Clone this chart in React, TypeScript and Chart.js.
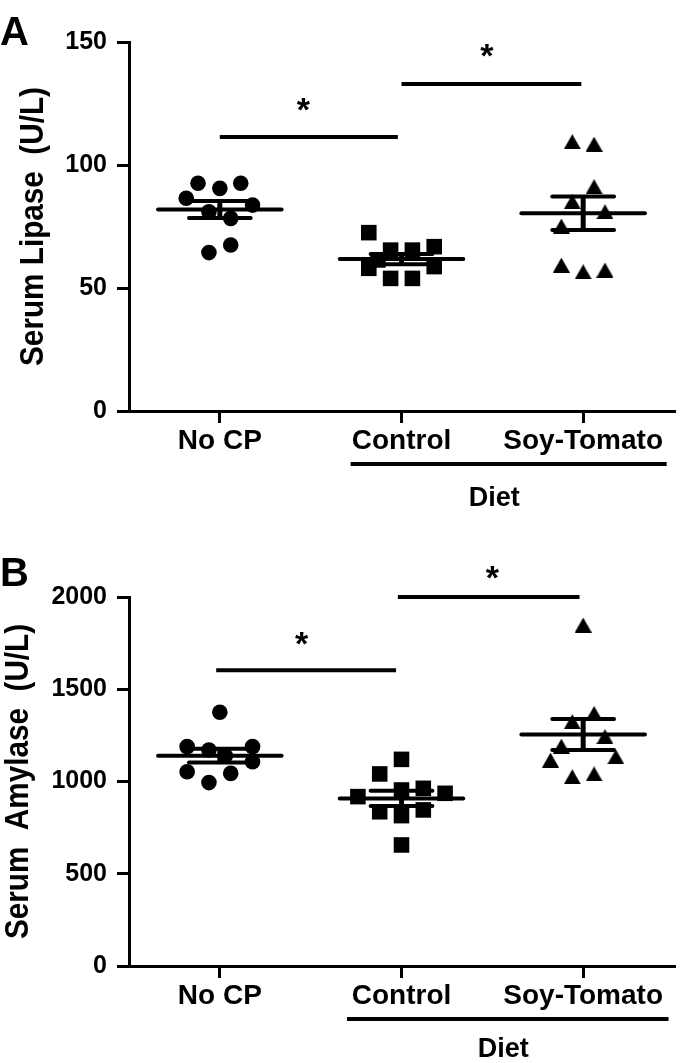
import React, { useEffect, useRef } from 'react';
import { Chart, registerables } from 'chart.js';

Chart.register(...registerables);

const FONT = '"Liberation Sans", Arial, Helvetica, sans-serif';

const categories = ['No CP', 'Control', 'Soy-Tomato'];

// Panel A – Serum Lipase (U/L)
const lipaseTicks = [0, 50, 100, 150];
const lipaseNoCP = [92.6, 90.5, 92.6, 86.5, 83.7, 81.0, 78.3, 64.4, 67.5];
const lipaseNoCPJitter = [-0.12, 0, 0.115, -0.185, 0.18, -0.06, 0.06, -0.06, 0.06];
const lipaseControl = [72.5, 65.4, 65.4, 66.8, 58.0, 58.7, 53.9, 53.9, 61.4];
const lipaseControlJitter = [-0.18, -0.06, 0.06, 0.18, -0.18, 0.18, -0.06, 0.06, -0.13];
const lipaseSoyTomato = [109.5, 108.5, 91.2, 85.1, 81.0, 75.2, 59.3, 56.6, 57.3];
const lipaseSoyTomatoJitter = [-0.06, 0.06, 0.06, -0.06, 0.12, -0.12, -0.12, 0, 0.12];
const lipaseSigLevels = [111.4, 132.9];
const lipaseStarLevels = [124.5, 146.5];

// Panel B – Serum Amylase (U/L)
const amylaseTicks = [0, 500, 1000, 1500, 2000];
const amylaseNoCP = [1375, 1189, 1171, 1189, 1053, 1044, 1107, 994, 1140];
const amylaseNoCPJitter = [0, -0.18, -0.06, 0.18, -0.18, 0.06, 0.18, -0.06, 0.03];
const amylaseControl = [1120, 1041, 918, 936, 954, 963, 836, 846, 815, 656];
const amylaseControlJitter = [0, -0.12, -0.24, 0.24, 0, 0.12, -0.12, 0.12, 0, 0];
const amylaseSoyTomato = [1848, 1369, 1324, 1243, 1192, 1134, 1116, 1026, 1041];
const amylaseSoyTomatoJitter = [0, 0.06, -0.06, 0.12, -0.12, 0.18, -0.18, -0.06, 0.06];
const amylaseSigLevels = [1603, 2000];
const amylaseStarLevels = [1775, 2135];

type Style = 'circle' | 'rect' | 'triangle';
type Group = { values: number[]; jitter: number[]; style: Style };
type PanelCfg = {
  letter: string;
  yTitle: string;
  yMax: number;
  ticks: number[];
  groups: Group[];
  sigLevels: number[];
  starLevels: number[];
  sigSpans: [number, number][];
  starX: number[];
  height: number;
  top: number;
  bottom: number;
  titleX: number;
  letterY: number;
  dietX: number;
  dietDy: number;
  underline: [number, number];
};

const mean = (a: number[]) => a.reduce((s, v) => s + v, 0) / a.length;
const sem = (a: number[]) => {
  const m = mean(a);
  const sd = Math.sqrt(a.reduce((s, v) => s + (v - m) * (v - m), 0) / (a.length - 1));
  return sd / Math.sqrt(a.length);
};

const panels: PanelCfg[] = [
  {
    letter: 'A',
    yTitle: 'Serum Lipase  (U/L)',
    yMax: 150,
    ticks: lipaseTicks,
    groups: [
      { values: lipaseNoCP, jitter: lipaseNoCPJitter, style: 'circle' },
      { values: lipaseControl, jitter: lipaseControlJitter, style: 'rect' },
      { values: lipaseSoyTomato, jitter: lipaseSoyTomatoJitter, style: 'triangle' },
    ],
    sigLevels: lipaseSigLevels,
    starLevels: lipaseStarLevels,
    sigSpans: [[0, 0.98], [1.0, 1.99]],
    starX: [0.46, 1.47],
    height: 530,
    top: 42,
    bottom: 411,
    titleX: 34,
    letterY: 31,
    dietX: 1.51,
    dietDy: 85,
    underline: [0.72, 2.46],
  },
  {
    letter: 'B',
    yTitle: 'Serum  Amylase  (U/L)',
    yMax: 2000,
    ticks: amylaseTicks,
    groups: [
      { values: amylaseNoCP, jitter: amylaseNoCPJitter, style: 'circle' },
      { values: amylaseControl, jitter: amylaseControlJitter, style: 'rect' },
      { values: amylaseSoyTomato, jitter: amylaseSoyTomatoJitter, style: 'triangle' },
    ],
    sigLevels: amylaseSigLevels,
    starLevels: amylaseStarLevels,
    sigSpans: [[-0.02, 0.97], [0.98, 1.98]],
    starX: [0.45, 1.5],
    height: 533,
    top: 67,
    bottom: 436,
    titleX: 19,
    letterY: 42,
    dietX: 1.56,
    dietDy: 81,
    underline: [0.7, 2.47],
  },
];

const AREA_LEFT = 129;
const AREA_RIGHT = 684;

function centeredText(ctx: CanvasRenderingContext2D, text: string, x: number, y: number) {
  ctx.textBaseline = 'alphabetic';
  const m = ctx.measureText(text);
  const base = y + (m.actualBoundingBoxAscent - m.actualBoundingBoxDescent) / 2;
  ctx.fillText(text, x, base);
}

function Panel({ cfg }: { cfg: PanelCfg }) {
  const ref = useRef<HTMLCanvasElement>(null);

  useEffect(() => {
    if (!ref.current) return;
    const tri = document.createElement('canvas');
    tri.width = 17;
    tri.height = 15;
    const tctx = tri.getContext('2d')!;
    tctx.fillStyle = '#000';
    tctx.beginPath();
    tctx.moveTo(8.5, 0);
    tctx.lineTo(17, 15);
    tctx.lineTo(0, 15);
    tctx.closePath();
    tctx.fill();

    const datasets = cfg.groups.map((g, i) => ({
      data: g.values.map((v, k) => ({ x: i + g.jitter[k], y: v })),
      pointStyle: g.style === 'triangle' ? tri : g.style,
      pointRadius: g.style === 'rect' ? 11 : 7.8,
      pointHoverRadius: g.style === 'rect' ? 11 : 7.8,
      backgroundColor: '#000',
      borderColor: '#000',
      borderWidth: 0,
      showLine: false,
    }));

    const overlay = {
      id: 'overlay',
      afterDatasetsDraw(chart: any) {
        const { ctx, scales } = chart;
        const x = scales.x;
        const y = scales.y;
        ctx.save();
        ctx.strokeStyle = '#000';
        cfg.groups.forEach((g, i) => {
          const m = mean(g.values);
          const s = sem(g.values);
          ctx.lineCap = 'round';
          ctx.lineWidth = 4;
          ctx.beginPath();
          ctx.moveTo(x.getPixelForValue(i - 0.34), y.getPixelForValue(m));
          ctx.lineTo(x.getPixelForValue(i + 0.34), y.getPixelForValue(m));
          ctx.stroke();
          [m + s, m - s].forEach((c) => {
            ctx.beginPath();
            ctx.moveTo(x.getPixelForValue(i - 0.17), y.getPixelForValue(c));
            ctx.lineTo(x.getPixelForValue(i + 0.17), y.getPixelForValue(c));
            ctx.stroke();
          });
          ctx.lineWidth = 5;
          ctx.lineCap = 'butt';
          ctx.beginPath();
          ctx.moveTo(x.getPixelForValue(i), y.getPixelForValue(m + s));
          ctx.lineTo(x.getPixelForValue(i), y.getPixelForValue(m - s));
          ctx.stroke();
        });
        ctx.restore();
      },
      afterDraw(chart: any) {
        const { ctx, scales, chartArea } = chart;
        const x = scales.x;
        const y = scales.y;
        ctx.save();
        ctx.fillStyle = '#000';
        ctx.strokeStyle = '#000';
        ctx.lineWidth = 4;
        ctx.lineCap = 'butt';
        cfg.sigLevels.forEach((lvl, k) => {
          const [a, b] = cfg.sigSpans[k];
          const py = y.getPixelForValue(lvl);
          ctx.beginPath();
          ctx.moveTo(x.getPixelForValue(a), py);
          ctx.lineTo(x.getPixelForValue(b), py);
          ctx.stroke();
          ctx.font = `bold 34px ${FONT}`;
          ctx.textAlign = 'center';
          centeredText(ctx, '*', x.getPixelForValue(cfg.starX[k]), y.getPixelForValue(cfg.starLevels[k]));
        });
        const uy = chartArea.bottom + 53;
        ctx.beginPath();
        ctx.moveTo(x.getPixelForValue(cfg.underline[0]), uy);
        ctx.lineTo(x.getPixelForValue(cfg.underline[1]), uy);
        ctx.stroke();
        ctx.font = `bold 27px ${FONT}`;
        ctx.textAlign = 'center';
        centeredText(ctx, 'Diet', x.getPixelForValue(cfg.dietX), chartArea.bottom + cfg.dietDy);
        ctx.font = `bold 40px ${FONT}`;
        ctx.textAlign = 'left';
        centeredText(ctx, cfg.letter, 0, cfg.letterY);
        ctx.translate(cfg.titleX, (chartArea.top + chartArea.bottom) / 2);
        ctx.rotate(-Math.PI / 2);
        ctx.scale(0.9, 1);
        ctx.font = `bold 33px ${FONT}`;
        ctx.textAlign = 'center';
        centeredText(ctx, cfg.yTitle, 0, 0);
        ctx.restore();
      },
    };

    const axisGrid = {
      display: true,
      drawOnChartArea: false,
      drawTicks: true,
      tickLength: 12,
      lineWidth: 3,
      color: '#000',
    };
    const axisBorder = { display: true, width: 3, color: '#000' };

    let yWidth = AREA_LEFT;

    const chart = new Chart(ref.current, {
      type: 'scatter',
      data: { datasets: datasets as any },
      options: {
        responsive: false,
        maintainAspectRatio: false,
        animation: false,
        devicePixelRatio: 1,
        events: [],
        layout: { padding: { top: cfg.top, right: 685 - AREA_RIGHT, left: 0, bottom: 0 } },
        plugins: { legend: { display: false }, tooltip: { enabled: false } },
        scales: {
          x: {
            type: 'linear',
            min: -0.5,
            max: 2.5,
            afterBuildTicks: (s: any) => {
              s.ticks = categories.map((_, i) => ({ value: i }));
            },
            afterFit: (s: any) => {
              s.height = cfg.height - cfg.bottom;
              s.paddingLeft = 0;
              s.paddingRight = 0;
            },
            ticks: {
              callback: (v: any) => categories[Math.round(Number(v))] ?? '',
              font: { family: FONT, size: 28, weight: 'bold' },
              color: '#000',
              padding: 1,
              maxRotation: 0,
              autoSkip: false,
            },
            grid: axisGrid,
            border: axisBorder,
          },
          y: {
            type: 'linear',
            min: 0,
            max: cfg.yMax,
            afterBuildTicks: (s: any) => {
              s.ticks = cfg.ticks.map((v) => ({ value: v }));
            },
            afterFit: (s: any) => {
              s.width = yWidth;
              s.paddingTop = 0;
              s.paddingBottom = 0;
            },
            ticks: {
              callback: (v: any) => String(v),
              font: { family: FONT, size: 25, weight: 'bold' },
              color: '#000',
              padding: 10,
            },
            grid: axisGrid,
            border: axisBorder,
          },
        },
      } as any,
      plugins: [overlay],
    });

    // pin the x scale's pixel range and the plot's vertical frame to the reference
    const pad = (chart.options as any).layout.padding;
    for (let iter = 0; iter < 4; iter++) {
      const xs: any = chart.scales.x;
      const ys: any = chart.scales.y;
      const pl = xs.getPixelForValue(-0.5);
      const pr = xs.getPixelForValue(2.5);
      const pt = ys.getPixelForValue(cfg.yMax);
      const pb = ys.getPixelForValue(0);
      const dl = pl - AREA_LEFT;
      const dr = pr - AREA_RIGHT;
      const dt = pt - cfg.top;
      const db = pb - cfg.bottom;
      if (Math.abs(dl) < 0.5 && Math.abs(dr) < 0.5 && Math.abs(dt) < 0.5 && Math.abs(db) < 0.5) break;
      yWidth -= dl;
      pad.right += dr;
      pad.top -= dt;
      pad.bottom += db;
      chart.update();
    }

    return () => chart.destroy();
  }, [cfg]);

  return (
    <canvas
      ref={ref}
      width={685}
      height={cfg.height}
      style={{ display: 'block', width: 685, height: cfg.height }}
    />
  );
}

export default function App() {
  useEffect(() => {
    document.body.style.margin = '0';
    document.body.style.background = '#fff';
  }, []);
  return (
    <div style={{ width: 685, height: 1063, background: '#fff' }}>
      {panels.map((p) => (
        <Panel key={p.letter} cfg={p} />
      ))}
    </div>
  );
}
